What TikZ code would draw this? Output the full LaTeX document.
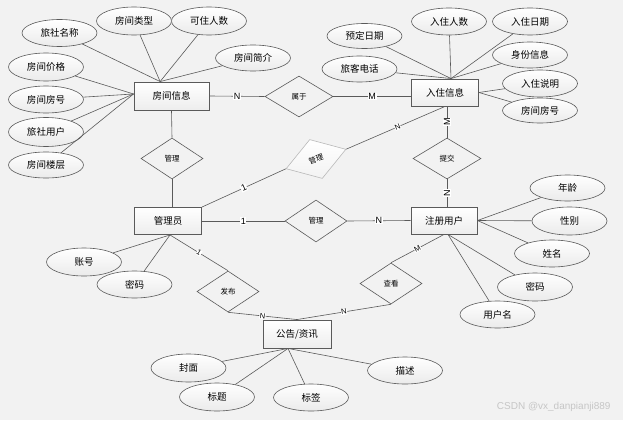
\documentclass[tikz,border=0pt]{standalone}
\usepackage{fontspec}
\newfontfamily\cjk{Noto Sans CJK SC}
\newfontfamily\lat{Liberation Sans}
\usetikzlibrary{shapes.geometric,calc}
\definecolor{bg}{HTML}{F2F2F2}
\definecolor{ln}{HTML}{5A5A5A}
\begin{document}
\begin{tikzpicture}[x=1pt,y=-1pt,
  ent/.style={draw=ln,line width=0.9pt,top color=white,bottom color=gray!14,minimum width=67pt,minimum height=27pt,inner sep=0pt,font=\cjk\fontsize{9.5}{10}\selectfont},
  attr/.style={ellipse,draw=ln,line width=0.6pt,top color=white,bottom color=gray!16,minimum width=75pt,minimum height=27pt,inner sep=0pt,font=\cjk\fontsize{9.5}{10}\selectfont},
  rel/.style={diamond,draw=ln,line width=0.6pt,fill=bg,minimum width=62pt,minimum height=41pt,inner sep=0pt,font=\cjk\fontsize{7.5}{8}\selectfont},
  conn/.style={draw=ln,line width=0.6pt},
  lbl/.style={fill=white,inner sep=0.6pt,font=\lat\fontsize{9}{9}\selectfont},
  slbl/.style={fill=white,inner sep=0.4pt,font=\lat\fontsize{7.5}{7.5}\selectfont}]
\fill[bg] (0,0) rectangle (623,420);
% entities
\node[ent,minimum width=75pt,minimum height=28pt] (fj) at (171.5,96) {房间信息};
\node[ent] (rz) at (445,92.5) {入住信息};
\node[ent] (gly) at (168,221) {管理员};
\node[ent,minimum width=66pt] (zc) at (444,220.5) {注册用户};
\node[ent,minimum width=68pt,minimum height=28pt] (gg) at (297,334) {公告/资讯};
% relations
\node[rel,minimum width=68pt] (sy) at (299,96.5) {属于};
\node[rel] (gl1) at (172,158.5) {管理};
\node[rel,draw=gray!55,top color=white,bottom color=gray!10,minimum width=63pt,rotate=18] (gl2) at (316,159) {管理};
\node[rel,minimum height=42pt] (gl3) at (316,221) {管理};
\node[rel,minimum width=68pt] (tj) at (447,158.5) {提交};
\node[rel] (fb) at (228,291.5) {发布};
\node[rel] (ck) at (391,283.5) {查看};
% attributes of 房间信息
\node[attr] (a1) at (59.5,33) {旅社名称};
\node[attr,minimum height=28pt] (a2) at (134,21) {房间类型};
\node[attr,minimum height=28pt] (a3) at (209,21) {可住人数};
\node[attr,minimum height=26pt] (a4) at (253,58) {房间简介};
\node[attr,minimum height=28pt] (a5) at (46,67) {房间价格};
\node[attr] (a6) at (46,99.5) {房间房号};
\node[attr,minimum height=29pt] (a7) at (46,132) {旅社用户};
\node[attr,minimum height=26pt] (a8) at (46,165) {房间楼层};
\coordinate (fjtop) at ($(fj.north west)!0.35!(fj.north east)$);
\coordinate (fjleft) at ($(fj.north west)!0.43!(fj.south west)$);
\foreach \n in {a1,a2,a3,a4} \draw[conn] (\n) -- (fjtop);
\foreach \n in {a5,a6,a7,a8} \draw[conn] (\n) -- (fjleft);
% attributes of 入住信息
\node[attr,minimum height=25pt] (b1) at (364.5,36) {预定日期};
\node[attr] (b2) at (449,21.5) {入住人数};
\node[attr] (b3) at (530,21.5) {入住日期};
\node[attr,minimum height=26pt] (b4) at (359.5,69) {旅客电话};
\node[attr,minimum height=26pt] (b5) at (530,55) {身份信息};
\node[attr] (b6) at (540,83.5) {入住说明};
\node[attr,minimum height=25pt] (b7) at (540,110.5) {房间房号};
\coordinate (rztop) at ($(rz.north)+(6,0)$);
\foreach \n in {b1,b2,b3,b4,b5} \draw[conn] (\n) -- (rztop);
\foreach \n in {b6,b7} \draw[conn] (\n) -- (rz.east);
% attributes of 注册用户
\node[attr,minimum height=26pt] (c1) at (567.5,188) {年龄};
\node[attr,minimum height=28pt] (c2) at (569.5,221) {性别};
\node[attr] (c3) at (552,253.5) {姓名};
\node[attr,minimum height=28pt] (c4) at (535,287) {密码};
\node[attr] (c5) at (497.5,314.5) {用户名};
\coordinate (zcbot) at ($(zc.south)+(4,0)$);
\foreach \n in {c1,c2,c3} \draw[conn] (\n) -- (zc.east);
\foreach \n in {c4,c5} \draw[conn] (\n) -- (zcbot);
% attributes of 管理员
\node[attr,minimum height=28pt] (d1) at (84,262) {账号};
\node[attr] (d2) at (134.5,284.5) {密码};
\coordinate (glybot) at ($(gly.south)+(2,0)$);
\foreach \n in {d1,d2} \draw[conn] (\n) -- (glybot);
% attributes of 公告/资讯
\node[attr,minimum height=28pt] (e1) at (188.5,368) {封面};
\node[attr,minimum height=28pt] (e2) at (217,397) {标题};
\node[attr,minimum height=27pt] (e3) at (311,397.5) {标签};
\node[attr] (e4) at (405,370.5) {描述};
\coordinate (ggbot) at ($(gg.south)+(-9,0)$);
\foreach \n in {e1,e2,e3,e4} \draw[conn] (\n) -- (ggbot);
% relationship connectors
\draw[conn] (fj.east) -- node[lbl] {N} (sy.west);
\draw[conn] (sy.east) -- node[lbl] {M} (sy.east -| rz.west);
\draw[conn] (fj.south) -- (gl1.north);
\draw[conn] (gl1.south) -- (gl1.south |- gly.north);
\draw[conn] (gly.north east) -- node[lbl,sloped] {1} (gl2.west);
\draw[conn] (gl2.east) -- node[slbl,sloped,pos=0.52] {N} (rz.south);
\draw[conn] (gly.east) -- node[lbl] {1} (gl3.west);
\draw[conn] (gl3.east) -- node[lbl] {N} (zc.west);
\draw[conn] (tj.north |- rz.south) -- node[lbl,rotate=90] {M} (tj.north);
\draw[conn] (tj.south) -- node[lbl,rotate=90] {N} (tj.south |- zc.north);
\draw[conn] (glybot) -- node[slbl,sloped] {1} (fb.north);
\draw[conn] (fb.south) -- node[slbl,sloped] {N} (gg.north);
\draw[conn] (zc.south) -- node[slbl,sloped] {M} (ck.north);
\draw[conn] (ck.south) -- node[slbl,sloped] {N} (gg.north);
% watermark
\node[text=gray!45,font=\lat\fontsize{10}{10}\selectfont,anchor=east] (wm) at (614,407) {CSDN @vx\_danpianji889};
\end{tikzpicture}
\end{document}
